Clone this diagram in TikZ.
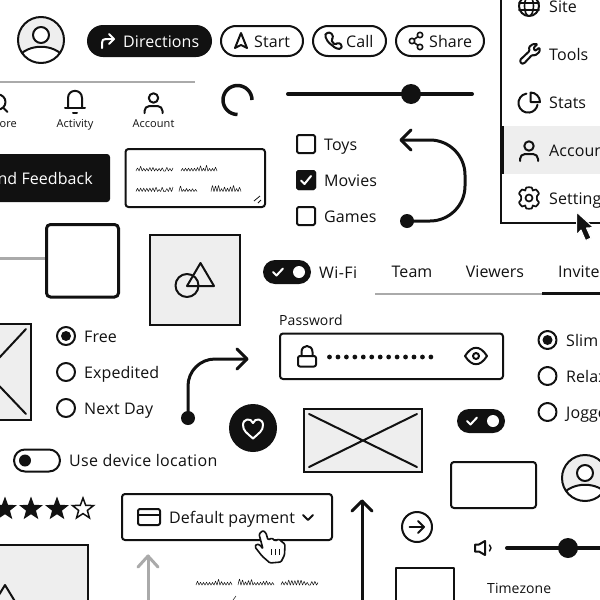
\documentclass[tikz,border=0pt]{standalone}
\usepackage{fontspec}
\setmainfont{Open Sans}[LetterSpace=0.5]
\usetikzlibrary{shapes.geometric}
\definecolor{ink}{HTML}{111111}
\definecolor{paleg}{HTML}{EEEEEE}
\definecolor{rule}{HTML}{AAAAAA}
\tikzset{
  lab/.style={inner sep=0pt,anchor=base west,text=ink,font=\fontsize{16}{18}\selectfont},
  labc/.style={lab,anchor=base},
  smalllab/.style={lab,font=\fontsize{14}{16}\selectfont},
  navlab/.style={labc,font=\fontsize{11}{13}\selectfont},
  ln/.style={draw=ink,line width=2pt,line join=round,line cap=round},
  thickln/.style={draw=ink,line width=3pt,line join=round,line cap=round},
  box/.style={draw=ink,line width=2pt,fill=white,rounded corners=3pt},
  ph/.style={draw=ink,line width=2pt,fill=paleg},
  wln/.style={draw=white,line width=2pt,line join=round,line cap=round},
  starnode/.style={star,star points=5,star point ratio=2.4,minimum size=22pt,inner sep=0pt,draw=ink}
}
% a handwriting squiggle: tall strokes (x0, baseline, length, height expression)
\newcommand{\scrib}[4]{%
  \pgfmathtruncatemacro\scribn{#3/1.5+1}%
  \draw[ink,line width=.5pt,line join=round] plot[smooth,tension=.35,domain=0:#3,samples=\scribn]
    ({#1+\x},{#2-mod(round(\x/1.5),2)*(#4)});}
\newcommand{\avatar}[2]{%
  \begin{scope}[shift={(#1,#2)}]
    \fill[paleg] (0,0) circle[radius=23];
    \begin{scope}
      \clip (0,0) circle[radius=23];
      \fill[white] (-24,18) .. controls (-13,3) and (13,3) .. (24,18) -- (24,24) -- (-24,24) -- cycle;
      \draw[ln] (-24,18) .. controls (-13,3) and (13,3) .. (24,18);
    \end{scope}
    \draw[ln,fill=white] (0,-5) circle[radius=8];
    \draw[ln] (0,0) circle[radius=23];
  \end{scope}}
\newcommand{\person}[2]{%
  \begin{scope}[shift={(#1,#2)}]
    \draw[ln] (0,-5) circle[radius=4.7];
    \draw[ln,rounded corners=5pt] (-9,10) -- (-9,3) -- (9,3) -- (9,10);
  \end{scope}}
\newcommand{\radio}[3]{%
  \draw[ln] (#1,#2) circle[radius=9];
  \ifnum#3=1 \fill[ink] (#1,#2) circle[radius=5]; \fi}
\newcommand{\checkbox}[3]{%
  \draw[ln,rounded corners=1.5pt,fill=white] (#1-9,#2-9) rectangle (#1+9,#2+9);
  \ifnum#3=1 \draw[ink,fill=ink,rounded corners=1.5pt,line width=2pt] (#1-9,#2-9) rectangle (#1+9,#2+9);
  \draw[wln] (#1-5,#2+.5) -- (#1-1.5,#2+4) -- (#1+5,#2-4); \fi}
\newcommand{\toggleon}[2]{%
  \fill[ink,rounded corners=12pt] (#1,#2-12) rectangle (#1+48,#2+12);
  \draw[wln] (#1+10,#2) -- (#1+13.5,#2+3.5) -- (#1+20,#2-3.5);
  \fill[white] (#1+36,#2) circle[radius=6];}
\begin{document}
\begin{tikzpicture}[x=1pt,y=-1pt]
\useasboundingbox (0,0) rectangle (600,600);
\clip (0,0) rectangle (600,600);
\fill[white] (0,0) rectangle (600,600);

% avatar and pill buttons
\avatar{41}{40}
\fill[ink,rounded corners=16pt] (87,25) rectangle (212,57);
\draw[wln] (102,48) -- (102,43) .. controls (102,40) and (103,39) .. (106,39) -- (114,39);
\draw[wln] (109,34) -- (114,39) -- (109,44);
\node[lab,text=white] (directions) at (123,47) {Directions};
\draw[ln,fill=white,rounded corners=15pt] (221,26) rectangle (303,56);
\draw[ln] (241,33) -- (247,48) -- (241,45) -- (235,48) -- cycle;
\node[lab] (start) at (254,47) {Start};
\draw[ln,fill=white,rounded corners=15pt] (313,26) rectangle (386,56);
\draw[ln,rounded corners=1.5pt] (326,33) -- (331,32.5) -- (333.5,37.5) -- (331,40) -- (335,45) -- (338,42.5) -- (342,45) -- (341,49) -- (336,48.5) -- (328,42) -- (325,36) -- cycle;
\node[lab] (call) at (346,47) {Call};
\draw[ln,fill=white,rounded corners=15pt] (396,26) rectangle (484,56);
\draw[ln,line width=1.6pt] (420,35) -- (412,41) -- (420,47);
\draw[ln,line width=1.6pt,fill=white] (420,35) circle[radius=2.7] (412,41) circle[radius=2.7] (420,47) circle[radius=2.7];
\node[lab] (share) at (429,47) {Share};

% side menu
\fill[paleg] (501,126) rectangle (600,174);
\fill[ink] (500,126) rectangle (503.5,174);
\draw[ink,line width=2pt] (500.5,-2) -- (500.5,222.5) -- (602,222.5);
\node[lab] (site) at (549,12) {Site};
\node[lab] (tools) at (549,60) {Tools};
\node[lab] (stats) at (549,108) {Stats};
\node[lab] (accountm) at (549,156) {Account};
\node[lab] (settings) at (549,204) {Settings};
\draw[ln] (529,6) circle[radius=10];
\draw[ln,line width=1.6pt] (529,6) ellipse[x radius=4.5,y radius=10] (519,3) -- (539,3) (519,10) -- (539,10);
\draw[ln,rounded corners=1pt] (520,60) -- (529.5,51) -- (529,47) -- (533,44) -- (537.5,44) -- (533.5,48) -- (535,51) -- (539.5,47.5) -- (539.5,52) -- (535,55.5) -- (532,55) -- (524,63.5) -- (521,63.5) -- cycle;
\draw[ln] (526.4,93.6) arc[start angle=-100,end angle=-350,radius=9.6];
\draw[ln] (530.5,92.5) -- (530.5,102) -- (540,102) arc[start angle=0,end angle=-90,radius=9.5];
\person{529}{151}
\draw[ln,line width=1.7pt] plot[smooth cycle,tension=.4] coordinates {(526.3,187.5) (531.7,187.5) (532.8,190.5) (536,189.5) (539,193.5) (537,196) (537,200) (539,202.5) (536,206.5) (532.8,205.5) (531.7,208.5) (526.3,208.5) (525.2,205.5) (522,206.5) (519,202.5) (521,200) (521,196) (519,193.5) (522,189.5) (525.2,190.5)};
\draw[ln,line width=1.7pt] (529,198) circle[radius=3.5];
\fill[ink,draw=white,line width=1pt,line join=round] (576.5,212) -- (593.5,227.5) -- (586.5,228) -- (591,238) -- (585.5,240.5) -- (581,230) -- (576.5,235) -- cycle;

% tab bar
\draw[rule,line width=2pt] (0,81.5) -- (195,81.5);
\draw[ln] (-2,102) circle[radius=7.5] (3,107.5) -- (7.5,112);
\node[navlab,anchor=base east] (explore) at (17,127) {ore};
\draw[ln] (65,108) -- (85,108);
\draw[ln] (68,108) -- (68,98) .. controls (68,88.5) and (82,88.5) .. (82,98) -- (82,108);
\draw[ln] (73,112.5) -- (77,112.5);
\node[navlab] (activity) at (75,127) {Activity};
\person{153.5}{103}
\node[navlab] (accountn) at (153.5,127) {Account};

% spinner and slider
\draw[thickln,line cap=butt,line width=3.5pt] (252,100) arc[start angle=0,end angle=-270,radius=14.5];
\coordinate (sl1) at (288,94);
\coordinate (sl2) at (472,94);
\draw[ink,line width=4pt,line cap=round] (sl1) -- (sl2);
\fill[ink] (411,94) circle[radius=10];

% checkboxes
\checkbox{306}{144}{0}
\checkbox{306}{180}{1}
\checkbox{306}{216}{0}
\node[lab] (toys) at (324,150) {Toys};
\node[lab] (movies) at (324,186) {Movies};
\node[lab] (games) at (324,222) {Games};

% U-turn arrow
\coordinate (ua) at (407,221);
\coordinate (ub) at (465,221);
\coordinate (uc) at (465,140);
\coordinate (ud) at (401,140);
\draw[thickln,rounded corners=35pt] (ua) -- (ub) -- (uc) -- (ud);
\draw[thickln] (411,130) -- (ud) -- (411,150);
\fill[ink] (ua) circle[radius=7];

% feedback button and text area
\fill[ink,rounded corners=3pt] (-10,154) rectangle (110,202);
\node[lab,anchor=base east,text=white] (feedback) at (93,184) {Send Feedback};
\draw[box] (125.5,149) rectangle (265,207);
\pgfmathsetseed{11}
\scrib{136}{171}{37}{2.5+7*rnd*rnd*rnd}
\scrib{181}{171}{36}{2.5+7*rnd*rnd*rnd}
\scrib{136}{191.5}{37}{2+3*rnd}
\scrib{179}{191.5}{18}{2+3.5*rnd}
\scrib{211}{191.5}{30}{2+4*rnd}
\draw[ink,line width=.8pt] (254,201) -- (260,196) (258,203) -- (261,200);

% big box, image tile
\draw[rule,line width=3pt] (0,258.5) -- (46,258.5);
\draw[draw=ink,line width=3pt,fill=white,rounded corners=4pt] (46.5,224.5) rectangle (118.5,297);
\draw[ph] (150,235) rectangle (240,325);
\draw[ln] (187,285.5) circle[radius=11.5];
\draw[ln] (200.5,263) -- (214,286) -- (187,286) -- cycle;

% wi-fi, tabs
\toggleon{263}{272}
\node[lab] (wifi) at (319,278) {\addfontfeature{LetterSpace=2.5}Wi-Fi};
\node[lab,anchor=base] (team) at (412,277) {Team};
\node[lab,anchor=base] (viewers) at (495,277) {Viewers};
\node[lab] (invite) at (558,277) {Invite};
\draw[rule,line width=2pt] (375,293.5) -- (542,293.5);
\draw[ink,line width=3pt] (542,293.5) -- (600,293.5);

% password
\node[smalllab] (passlabel) at (279,325) {Password};
\draw[box] (280,333.5) rectangle (503,379);
\draw[ln,rounded corners=2pt] (298,356) rectangle (316,366.5);
\draw[ln] (301.5,356) -- (301.5,352) .. controls (301.5,344) and (312.5,344) .. (312.5,352) -- (312.5,356);
\foreach \k in {0,...,12} \fill[ink] ({329.5+8.45*\k},357) circle[radius=2.4];
\draw[ln] (465,356) .. controls (472,345) and (480,345) .. (487,356) .. controls (480,367) and (472,367) .. (465,356) -- cycle;
\draw[ln] (476,356) circle[radius=3];

% radios
\radio{547.5}{340}{1}
\radio{547.5}{376}{0}
\radio{547.5}{412}{0}
\node[lab] (slim) at (566,346) {Slim};
\node[lab] (relax) at (566,382) {Relaxed};
\node[lab] (jogger) at (566,418) {Jogger};
\radio{66}{336}{1}
\radio{66}{372}{0}
\radio{66}{408}{0}
\node[lab] (free) at (84,342) {Free};
\node[lab] (expedited) at (84,378) {Expedited};
\node[lab] (nextday) at (84,414) {\addfontfeature{LetterSpace=1.5}Next Day};

% left placeholder
\draw[ph] (-10,324) rectangle (31,420);
\draw[ln] (26,329) -- (-14,372) -- (26,414);

% curved arrow and heart
\coordinate (ca) at (188,418);
\coordinate (cb) at (188,359);
\coordinate (cc) at (247,359);
\draw[thickln,rounded corners=27pt] (ca) -- (cb) -- (cc);
\draw[thickln] (237,349) -- (cc) -- (237,369);
\fill[ink] (ca) circle[radius=7];
\fill[ink] (253,428) circle[radius=24];
\draw[wln] (253,438.5) .. controls (247,433) and (243,431) .. (243,425) .. controls (243,418.5) and (251,417.5) .. (253,423) .. controls (255,417.5) and (263,418.5) .. (263,425) .. controls (263,431) and (259,433) .. (253,438.5) -- cycle;

% wide placeholder, second toggle, rectangle, second avatar
\draw[ph] (304,409) rectangle (422,472);
\draw[ln] (309,414) -- (417,467) (417,414) -- (309,467);
\toggleon{457}{421}
\draw[box] (451,462) rectangle (536,508);
\avatar{585}{478}

% location toggle
\draw[ln,rounded corners=11pt] (14,449.5) rectangle (60,471.5);
\fill[ink] (25,460.5) circle[radius=6];
\node[lab] (uselocation) at (69,466) {\addfontfeature{LetterSpace=2}Use device location};

% stars
\node[starnode,fill=ink,line width=1pt] (s1) at (5,509) {};
\node[starnode,fill=ink,line width=1pt] (s2) at (31,509) {};
\node[starnode,fill=ink,line width=1pt] (s3) at (57,509) {};
\node[starnode,fill=white,line width=1.5pt] (s4) at (83,509) {};

% dropdown
\draw[box] (122,494) rectangle (332,540);
\draw[ln,rounded corners=2pt] (138,509) rectangle (160,525);
\draw[ln] (138,515) -- (160,515);
\node[lab] (payment) at (169,523) {Default payment};
\draw[ln] (303,515) -- (308,520) -- (313,515);
\draw[ln,fill=white,line width=1.6pt,rounded corners=1.2pt] (259,534) -- (263,530.5) -- (266,533) -- (268,540) -- (272,538) -- (275,541) -- (279,539) -- (282,542) -- (285,544) -- (284.5,555) -- (281,562) -- (270,563) -- (262,556) -- (255,547) -- (256.5,544) -- (260,545) -- (263,549) -- cycle;
\draw[ink,line width=1pt] (271,549) -- (271,555) (275,549) -- (275,555) (279,549) -- (279,555);

% lower-left placeholder
\draw[ph] (-10,545) rectangle (88,610);
\draw[ln] (-9,608) -- (5,585) -- (19,608);

% up arrows
\coordinate (ga) at (148,605);
\coordinate (gb) at (148,556);
\draw[draw=rule,line width=3pt,line join=round,line cap=round] (ga) -- (gb);
\draw[draw=rule,line width=3pt,line join=round,line cap=round] (138,567) -- (gb) -- (158,567);
\coordinate (ka) at (362,605);
\coordinate (kb) at (362,501);
\draw[thickln] (ka) -- (kb);
\draw[thickln] (352,511) -- (kb) -- (372,511);

% bottom scribble
\scrib{196}{585}{36}{2.5+7*rnd*rnd*rnd}
\scrib{238}{585}{36}{2.5+7*rnd*rnd*rnd}
\scrib{281}{585}{37}{2+3*rnd}
\draw[ink,line width=.5pt] (233,600) -- (236,596);

% right bottom items
\draw[ln] (417,527) circle[radius=15];
\draw[ln] (409.5,527) -- (424,527);
\draw[ln] (418,521) -- (424,527) -- (418,533);
\draw[ln] (475,544.5) -- (479,544.5) -- (485,541) -- (485,555) -- (479,551.5) -- (475,551.5) -- cycle;
\draw[ln,line width=1.5pt] (489.5,545) .. controls (491.5,547) and (491.5,549) .. (489.5,551);
\coordinate (sm1) at (507,548);
\coordinate (sm2) at (605,548);
\draw[ink,line width=4pt,line cap=round] (sm1) -- (sm2);
\fill[ink] (568,548) circle[radius=10];
\draw[ln,fill=white] (396,568) rectangle (454,610);
\node[smalllab] (timezone) at (487,593) {Timezone};
\end{tikzpicture}
\end{document}
